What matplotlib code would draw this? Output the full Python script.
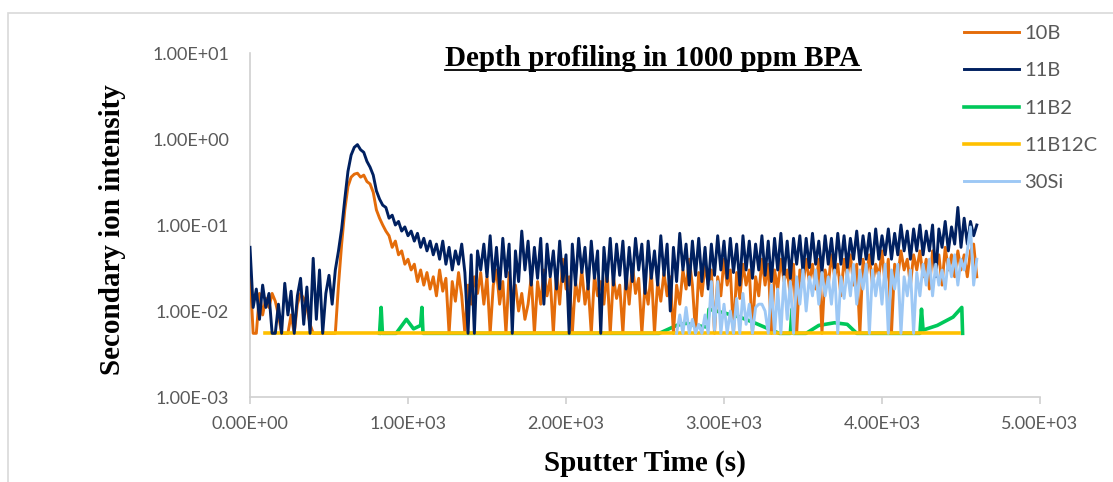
import numpy as np
import matplotlib
matplotlib.use("Agg")
import matplotlib.pyplot as plt
from matplotlib.ticker import FuncFormatter, FixedLocator, NullLocator
from matplotlib.patches import Rectangle
from matplotlib.lines import Line2D

# sputter time grid (s): one reading every 20 s
STEP = 20

# 10B, from t = 0 s
b10 = [
    0.028, 0.0055, 0.0055, 0.016, 0.009, 0.014, 0.011, 0.016, 0.013, 0.009,
    0.0055, 0.0055, 0.0055, 0.009, 0.0055, 0.012, 0.016, 0.014, 0.011, 0.007,
    0.0055, 0.0055, 0.0055, 0.0055, 0.0055, 0.0055, 0.0055, 0.0055, 0.02, 0.06,
    0.15, 0.28, 0.36, 0.39, 0.4, 0.36, 0.38, 0.32, 0.3, 0.24,
    0.15, 0.12, 0.1, 0.085, 0.075, 0.055, 0.065, 0.045, 0.05, 0.035,
    0.04, 0.03, 0.035, 0.022, 0.03, 0.02, 0.028, 0.018, 0.025, 0.015,
    0.03, 0.017, 0.024, 0.0055, 0.022, 0.013, 0.028, 0.015, 0.0055, 0.02,
    0.012, 0.025, 0.016, 0.028, 0.012, 0.025, 0.0055, 0.02, 0.03, 0.012,
    0.022, 0.0055, 0.028, 0.014, 0.02, 0.01, 0.016, 0.008, 0.012, 0.025,
    0.0055, 0.022, 0.012, 0.03, 0.015, 0.024, 0.0055, 0.028, 0.012, 0.04,
    0.018, 0.025, 0.0055, 0.022, 0.013, 0.03, 0.012, 0.02, 0.0055, 0.026,
    0.015, 0.022, 0.012, 0.03, 0.0055, 0.025, 0.014, 0.02, 0.0055, 0.028,
    0.012, 0.035, 0.016, 0.024, 0.0055, 0.02, 0.012, 0.03, 0.0055, 0.022,
    0.013, 0.028, 0.015, 0.025, 0.0055, 0.02, 0.012, 0.03, 0.018, 0.04,
    0.02, 0.0055, 0.028, 0.015, 0.035, 0.02, 0.03, 0.0055, 0.025, 0.015,
    0.04, 0.02, 0.03, 0.0055, 0.028, 0.014, 0.035, 0.02, 0.03, 0.0055,
    0.025, 0.015, 0.04, 0.02, 0.035, 0.0055, 0.03, 0.018, 0.04, 0.022,
    0.03, 0.015, 0.035, 0.0055, 0.03, 0.02, 0.04, 0.022, 0.035, 0.018,
    0.04, 0.0055, 0.03, 0.02, 0.045, 0.025, 0.035, 0.015, 0.04, 0.025,
    0.045, 0.02, 0.035, 0.0055, 0.04, 0.025, 0.045, 0.02, 0.035, 0.025,
    0.05, 0.02, 0.04, 0.0055, 0.035, 0.025, 0.05, 0.03, 0.04, 0.02,
    0.045, 0.03, 0.05, 0.025, 0.04, 0.018, 0.05, 0.03, 0.045, 0.02,
    0.055, 0.03, 0.045, 0.025, 0.05, 0.03, 0.045, 0.025, 0.05, 0.06,
    0.025,
]

# 11B, from t = 0 s
b11 = [
    0.055, 0.011, 0.018, 0.008, 0.02, 0.011, 0.016, 0.0055, 0.0055, 0.012,
    0.0055, 0.021, 0.009, 0.017, 0.0055, 0.015, 0.024, 0.007, 0.019, 0.0055,
    0.041, 0.008, 0.03, 0.0055, 0.016, 0.026, 0.012, 0.03, 0.05, 0.09,
    0.2, 0.42, 0.65, 0.8, 0.86, 0.75, 0.7, 0.55, 0.47, 0.38,
    0.25, 0.2, 0.17, 0.16, 0.12, 0.13, 0.1, 0.11, 0.085, 0.095,
    0.075, 0.085, 0.065, 0.08, 0.055, 0.07, 0.05, 0.065, 0.045, 0.06,
    0.04, 0.065, 0.035, 0.055, 0.03, 0.05, 0.035, 0.06, 0.028, 0.0055,
    0.045, 0.0055, 0.05, 0.03, 0.06, 0.025, 0.075, 0.022, 0.055, 0.018,
    0.07, 0.025, 0.06, 0.0055, 0.05, 0.022, 0.085, 0.03, 0.065, 0.02,
    0.055, 0.024, 0.07, 0.012, 0.06, 0.025, 0.05, 0.018, 0.065, 0.022,
    0.045, 0.0055, 0.06, 0.02, 0.07, 0.028, 0.055, 0.018, 0.065, 0.024,
    0.05, 0.0055, 0.055, 0.022, 0.07, 0.02, 0.06, 0.026, 0.065, 0.018,
    0.055, 0.022, 0.07, 0.03, 0.06, 0.016, 0.065, 0.024, 0.05, 0.02,
    0.075, 0.026, 0.06, 0.01, 0.055, 0.022, 0.08, 0.03, 0.06, 0.02,
    0.065, 0.026, 0.07, 0.022, 0.055, 0.018, 0.06, 0.026, 0.075, 0.03,
    0.065, 0.024, 0.07, 0.028, 0.06, 0.02, 0.075, 0.03, 0.065, 0.024,
    0.06, 0.03, 0.075, 0.026, 0.065, 0.022, 0.07, 0.03, 0.08, 0.026,
    0.065, 0.024, 0.07, 0.035, 0.075, 0.028, 0.07, 0.032, 0.08, 0.035,
    0.065, 0.028, 0.075, 0.035, 0.07, 0.03, 0.08, 0.035, 0.075, 0.032,
    0.07, 0.04, 0.085, 0.035, 0.075, 0.04, 0.08, 0.035, 0.09, 0.04,
    0.075, 0.045, 0.09, 0.04, 0.08, 0.045, 0.1, 0.05, 0.085, 0.04,
    0.09, 0.05, 0.1, 0.045, 0.085, 0.05, 0.1, 0.025, 0.09, 0.055,
    0.11, 0.05, 0.095, 0.06, 0.16, 0.055, 0.12, 0.06, 0.11, 0.075,
    0.1,
]

# 30Si, from t = 2700 s
si30_start = 2700
si30 = [
    0.0055, 0.009, 0.0055, 0.011, 0.0055, 0.008, 0.0055, 0.007, 0.0055, 0.009,
    0.0055, 0.022, 0.006, 0.022, 0.0055, 0.012, 0.0055, 0.01, 0.0055, 0.014,
    0.0055, 0.016, 0.007, 0.012, 0.0055, 0.011, 0.012, 0.012, 0.01, 0.0055,
    0.02, 0.0055, 0.018, 0.0055, 0.025, 0.008, 0.022, 0.0055, 0.025, 0.012,
    0.03, 0.01, 0.025, 0.015, 0.03, 0.012, 0.028, 0.015, 0.025, 0.012,
    0.03, 0.0055, 0.025, 0.014, 0.03, 0.015, 0.035, 0.012, 0.03, 0.018,
    0.035, 0.0055, 0.03, 0.015, 0.028, 0.012, 0.035, 0.0055, 0.03, 0.018,
    0.035, 0.0055, 0.025, 0.015, 0.03, 0.0055, 0.028, 0.015, 0.035, 0.02,
    0.04, 0.015, 0.035, 0.02, 0.03, 0.018, 0.04, 0.025, 0.045, 0.02,
    0.04, 0.03, 0.05, 0.095, 0.02, 0.04,
]

# 11B2 (sparse readings above the floor)
b2_t = [820, 830, 838, 925, 990, 1035, 1080, 1088, 1095, 2590, 2700, 2760,
        2820, 2895, 2905, 3000, 3100, 3200, 3300, 3350, 3420, 3430, 3440,
        3520, 3600, 3700, 3780, 3840, 4240, 4250, 4260, 4350, 4450, 4505, 4510]
b2_v = [0.0055, 0.011, 0.0055, 0.0055, 0.008, 0.0062, 0.0068, 0.011, 0.0055,
        0.0055, 0.0068, 0.0072, 0.0068, 0.0065, 0.0105, 0.0095, 0.0085, 0.0072,
        0.006, 0.0055, 0.0055, 0.0105, 0.0055, 0.0055, 0.0068, 0.0073, 0.007,
        0.0055, 0.0055, 0.0105, 0.006, 0.0068, 0.0085, 0.011, 0.0055]

# 11B12C
b12c_t = [95, 4490]
b12c_v = [0.0055, 0.0055]

c_10b = '#E46C0A'
c_11b = '#002060'
c_b2 = '#00C85A'
c_b12c = '#FFC000'
c_si = '#9DC8F5'
grey = '#595959'
serif = 'Liberation Serif'
sans = 'Lato'

fig = plt.figure(figsize=(11.13, 4.82), dpi=100)
ax = fig.add_axes([250 / 1113, 1 - 397 / 482, 790 / 1113, 344 / 482])

t10 = STEP * np.arange(len(b10))
t11 = STEP * np.arange(len(b11))
tsi = si30_start + STEP * np.arange(len(si30))

ax.plot(t10, b10, color=c_10b, lw=2.1, label='10B', zorder=3)
ax.plot(t11, b11, color=c_11b, lw=2.1, label='11B', zorder=4)
ax.plot(b2_t, b2_v, color=c_b2, lw=2.6, label='11B2', zorder=2)
ax.plot(b12c_t, b12c_v, color=c_b12c, lw=2.6, label='11B12C', zorder=3)
ax.plot(tsi, si30, color=c_si, lw=2.1, label='30Si', zorder=5)

ax.set_yscale('log')
ax.set_ylim(1e-3, 1e1)
ax.set_xlim(0, 5000)
ax.yaxis.set_major_locator(FixedLocator([1e-3, 1e-2, 1e-1, 1e0, 1e1]))
ax.yaxis.set_minor_locator(NullLocator())
ax.xaxis.set_major_locator(FixedLocator([0, 1000, 2000, 3000, 4000, 5000]))
fmt = FuncFormatter(lambda v, p: f"{v:.2E}")
ax.xaxis.set_major_formatter(fmt)
ax.yaxis.set_major_formatter(fmt)

for s in ['top', 'right']:
    ax.spines[s].set_visible(False)
for s in ['left', 'bottom']:
    ax.spines[s].set_color('#D0D0D0')
    ax.spines[s].set_linewidth(1.2)
ax.tick_params(axis='y', length=0, pad=15, labelsize=13, labelcolor=grey)
ax.tick_params(axis='x', length=5, color='#D0D0D0', width=1.2, pad=9,
               labelsize=13, labelcolor=grey)
for lab in ax.get_xticklabels() + ax.get_yticklabels():
    lab.set_fontfamily(sans)

ax.set_xlabel('Sputter Time (s)', fontfamily=serif, fontweight='bold',
              fontsize=21, va='center')
ax.xaxis.set_label_coords(0.5, (397 - 463) / 344)
ax.set_ylabel('Secondary ion intensity', fontfamily=serif, fontweight='bold',
              fontsize=21, va='center')
ax.yaxis.set_label_coords((113 - 250) / 790, (397 - 230) / 344)

title = fig.text(653 / 1113, 1 - 58 / 482, 'Depth profiling in 1000 ppm BPA',
                 ha='center', va='center', fontfamily=serif,
                 fontweight='bold', fontsize=21)

leg = fig.legend(loc='upper left', bbox_to_anchor=(946 / 1113, 1 - 7 / 482),
                 frameon=False, prop={'family': sans, 'size': 14.5},
                 labelspacing=1.0, handlelength=2.7, handletextpad=0.3)
for txt in leg.get_texts():
    txt.set_color(grey)

# outer chart frame
fig.patches.append(Rectangle((8 / 1113, -0.05), 1.2, 1 - 13 / 482 + 0.05,
                             transform=fig.transFigure, fill=False,
                             edgecolor='#D9D9D9', lw=1.2))

# underline under the title
fig.canvas.draw()
bb = title.get_window_extent().transformed(fig.transFigure.inverted())
fig.add_artist(Line2D([bb.x0, bb.x1], [bb.y0 + 0.004, bb.y0 + 0.004],
                      transform=fig.transFigure, color='black', lw=1.3))

fig.savefig('out.png', dpi=100)
